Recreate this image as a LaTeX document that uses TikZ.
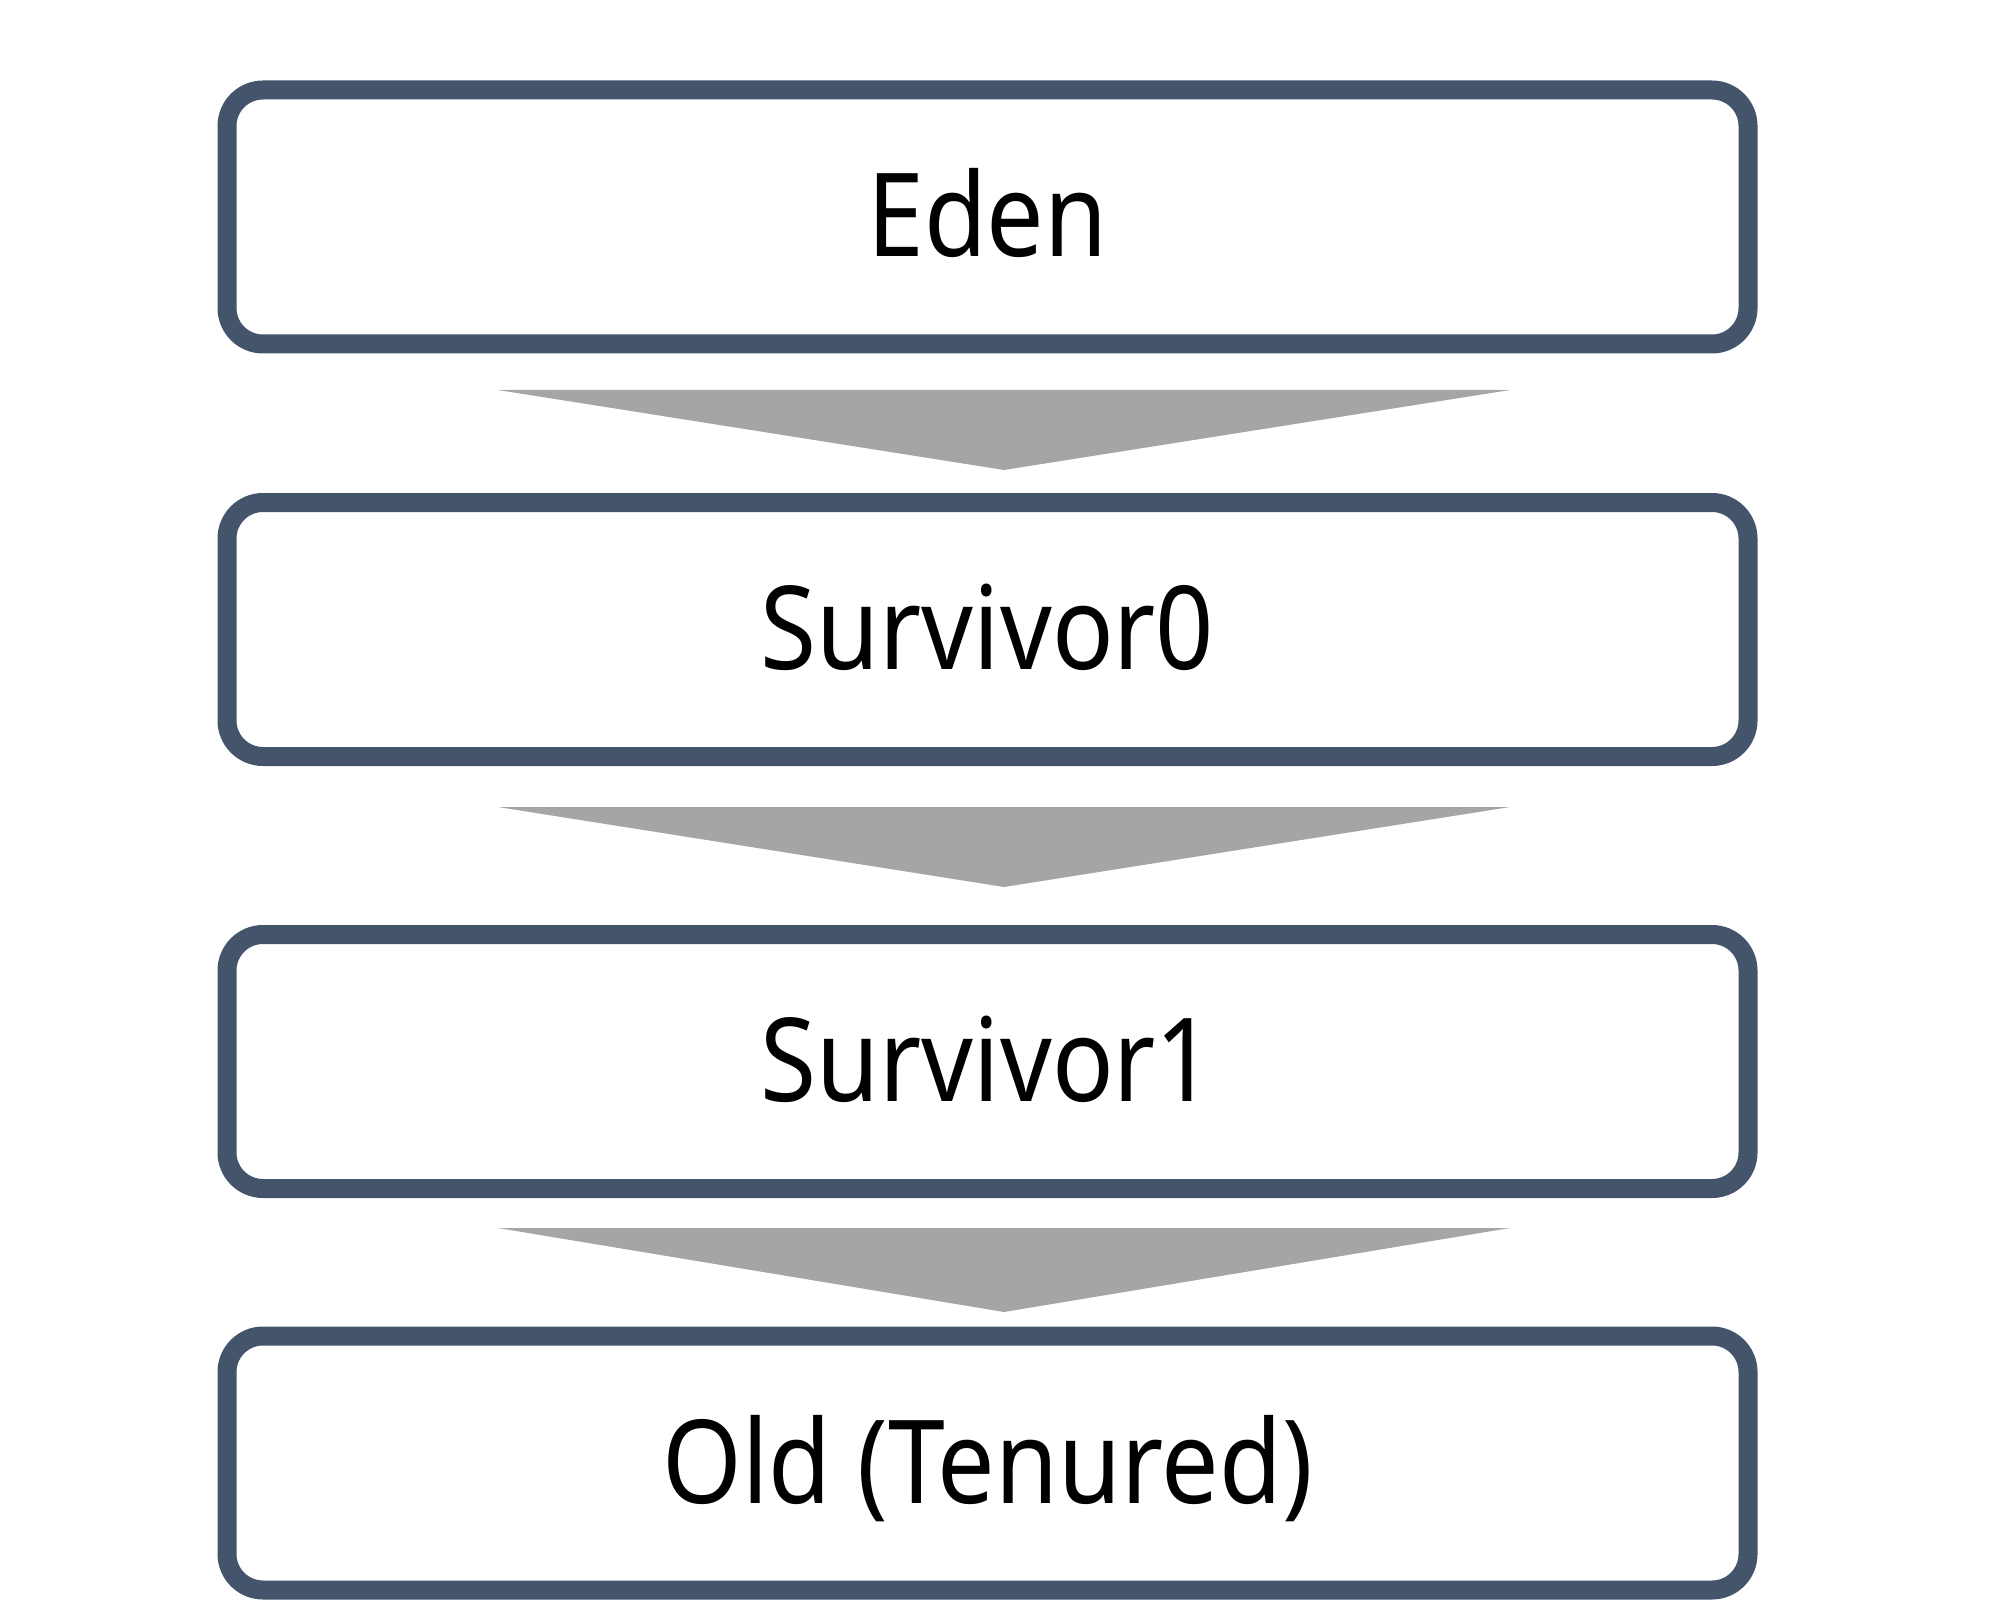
\documentclass[tikz,border=0pt]{standalone}
\usepackage{fontspec}
\setmainfont{Noto Sans}[FakeStretch=0.88]
\definecolor{boxline}{HTML}{44546A}
\definecolor{arrowgray}{HTML}{A5A5A5}
\begin{document}
\begin{tikzpicture}[x=0.5pt,y=-0.5pt,
  genbox/.style={draw=boxline, line width=9.5pt, rounded corners=18pt, fill=white,
    minimum width=760.5pt, minimum height=127pt, inner sep=0pt,
    text height=40pt, text depth=0pt, font=\fontsize{58}{62}\selectfont},
  flowarrow/.style={fill=arrowgray, draw=none}]
\useasboundingbox (0,0) rectangle (2000,1620);
\node[genbox] (eden) at (987.5,217) {Eden};
\node[genbox] (s0) at (987.5,629.5) {Survivor0};
\node[genbox] (s1) at (987.5,1061.5) {Survivor1};
\node[genbox] (old) at (987.5,1463) {Old (Tenured)};
\fill[flowarrow] (498,390) -- (1510,390) -- (1004,470) -- cycle;
\fill[flowarrow] (498,807) -- (1510,807) -- (1004,887) -- cycle;
\fill[flowarrow] (498,1228) -- (1510,1228) -- (1004,1312) -- cycle;
\end{tikzpicture}
\end{document}
